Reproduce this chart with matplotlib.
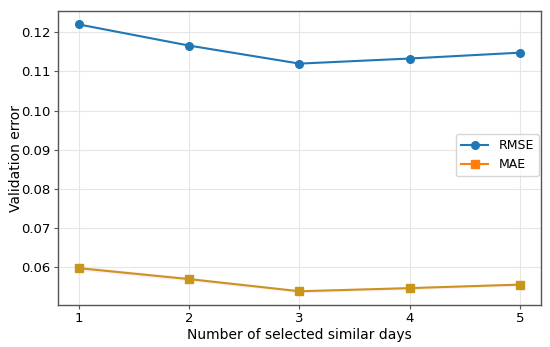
import numpy as np
import matplotlib.pyplot as plt

days = [1, 2, 3, 4, 5]
rmse = [0.1220, 0.1166, 0.1120, 0.1133, 0.1148]
mae = [0.0598, 0.0570, 0.0539, 0.0547, 0.0556]
mae_band = [0.0006, 0.0005, 0.0004, 0.0004, 0.0004]

fig, ax = plt.subplots(figsize=(5.5, 3.47), dpi=100)
fig.subplots_adjust(left=0.105, right=0.984, top=0.968, bottom=0.12)

ax.plot(days, rmse, color='#1f77b4', marker='o', markersize=5.5, linewidth=1.5, label='RMSE')
lo = np.array(mae) - np.array(mae_band)
hi = np.array(mae) + np.array(mae_band)
ax.fill_between(days, lo, hi, color='#ff00cc', alpha=0.08, linewidth=0)
ax.plot(days, mae, color='#c8961a', marker='s', markersize=5.5, linewidth=1.5)
ax.plot([], [], color='#ff7f0e', marker='s', markersize=5.5, linewidth=1.5, label='MAE')

ax.set_xlim(0.81, 5.19)
ax.set_ylim(0.0503, 0.1254)
ax.set_xticks(days)
ax.set_yticks([0.06, 0.07, 0.08, 0.09, 0.10, 0.11, 0.12])
ax.set_yticklabels(['0.06', '0.07', '0.08', '0.09', '0.10', '0.11', '0.12'])
ax.tick_params(labelsize=9.5, length=3, pad=2, color='#555555')
ax.set_xlabel('Number of selected similar days', fontsize=10, labelpad=2)
ax.set_ylabel('Validation error', fontsize=10, labelpad=-1)
ax.grid(color='#e6e6e6', linewidth=0.8)
for s in ax.spines.values():
    s.set_color('#555555')
    s.set_linewidth(1.0)
ax.legend(loc='center right', fontsize=9, bbox_to_anchor=(1.0, 0.51),
          borderaxespad=0.2, handlelength=2.2)

fig.savefig('out.png')
